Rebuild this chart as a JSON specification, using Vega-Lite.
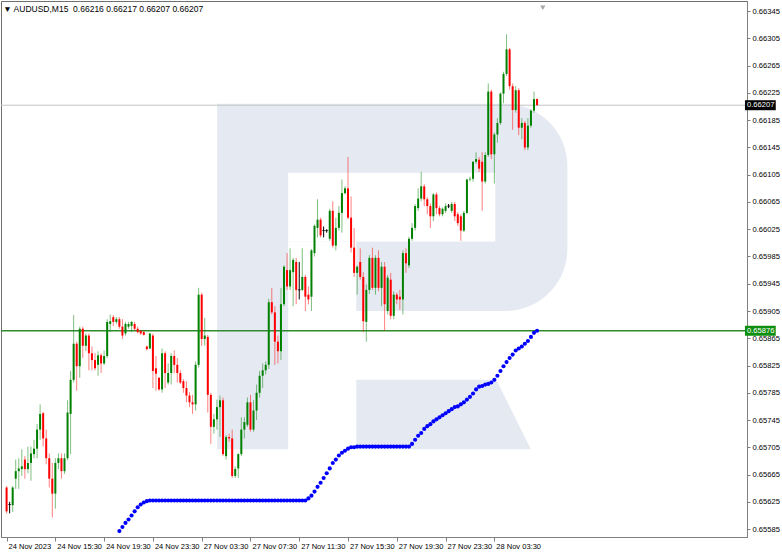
{
"$schema":"https://vega.github.io/schema/vega-lite/v6.json",
"width":746,"height":536,
"autosize":{"type":"none"},
"padding":{"left":1,"top":1,"right":35,"bottom":16},
"background":"white",
"title":{"text":"▼ AUDUSD,M15\u00a0 0.66216 0.66217 0.66207 0.66207","anchor":"start","orient":"top","offset":-19,"baseline":"alphabetic","dx":3,"fontSize":8.5,"font":"Liberation Sans","fontWeight":"normal","color":"#000000"},
"config":{"view":{"stroke":"#707070","strokeWidth":1},"axis":{"grid":false,"labelFont":"Liberation Sans","labelColor":"#000000","domainColor":"#808080","tickColor":"#808080","labelOverlap":false,"labelFlush":false,"labelBound":false}},
"datasets":{
"logo":[
{"part":"bowl","i":69.06,"i2":183.95,"p":0.66209,"p2":0.65905},
{"part":"stem","i":69.06,"i2":92.36,"p":0.65905,"p2":0.65702},
{"part":"hole","i":92.36,"i2":160.32,"p":0.66108,"p2":0.66007},
{"part":"hole","i":92.36,"i2":114.69,"p":0.66007,"p2":0.65905},
{"part":"leg","i":114.69,"i2":160.65,"p":0.65804},
{"part":"leg","i":114.69,"i2":171.97,"p":0.65702}
],
"levels":[{"p":0.66207,"lbl":"0.66207","kind":"bid"},{"p":0.65876,"lbl":"0.65876","kind":"lvl"}],
"marker":[{"i":175.9,"p":0.6635}],
"bars":[
{"i":0,"o":0.65646,"h":0.65648,"l":0.65608,"c":0.65611},
{"i":1,"o":0.65621,"h":0.65625,"l":0.65608,"c":0.65621},
{"i":2,"o":0.6562,"h":0.65648,"l":0.6561,"c":0.65646},
{"i":3,"o":0.65659,"h":0.65687,"l":0.65644,"c":0.6567},
{"i":4,"o":0.6567,"h":0.65689,"l":0.65644,"c":0.65674},
{"i":5,"o":0.65673,"h":0.65702,"l":0.65663,"c":0.65677},
{"i":6,"o":0.65687,"h":0.65692,"l":0.65659,"c":0.65673},
{"i":7,"o":0.65673,"h":0.65706,"l":0.65667,"c":0.65682},
{"i":8,"o":0.65682,"h":0.65706,"l":0.65656,"c":0.65696},
{"i":9,"o":0.65695,"h":0.65716,"l":0.65689,"c":0.65703},
{"i":10,"o":0.65703,"h":0.65739,"l":0.65689,"c":0.65731},
{"i":11,"o":0.65731,"h":0.65768,"l":0.65716,"c":0.65754},
{"i":12,"o":0.65755,"h":0.65757,"l":0.65706,"c":0.65718},
{"i":13,"o":0.65718,"h":0.65731,"l":0.6568,"c":0.65689},
{"i":14,"o":0.65689,"h":0.65696,"l":0.65646,"c":0.65659},
{"i":15,"o":0.65659,"h":0.65682,"l":0.65602,"c":0.65637},
{"i":16,"o":0.65637,"h":0.65689,"l":0.65615,"c":0.65682},
{"i":17,"o":0.65682,"h":0.65696,"l":0.65673,"c":0.65689},
{"i":18,"o":0.65689,"h":0.65696,"l":0.65659,"c":0.6567},
{"i":19,"o":0.6567,"h":0.65696,"l":0.65666,"c":0.65689},
{"i":20,"o":0.65689,"h":0.65774,"l":0.65686,"c":0.65756},
{"i":21,"o":0.65754,"h":0.65817,"l":0.65695,"c":0.65804},
{"i":22,"o":0.65804,"h":0.65899,"l":0.658,"c":0.65857},
{"i":23,"o":0.65857,"h":0.6586,"l":0.65788,"c":0.65824},
{"i":24,"o":0.65824,"h":0.65882,"l":0.65807,"c":0.65879},
{"i":25,"o":0.65879,"h":0.65882,"l":0.65836,"c":0.65854},
{"i":26,"o":0.65854,"h":0.65872,"l":0.65846,"c":0.65869},
{"i":27,"o":0.65869,"h":0.65872,"l":0.65818,"c":0.65843},
{"i":28,"o":0.65843,"h":0.65853,"l":0.65818,"c":0.65833},
{"i":29,"o":0.65833,"h":0.65843,"l":0.65818,"c":0.65821},
{"i":30,"o":0.65826,"h":0.65846,"l":0.6581,"c":0.6584},
{"i":31,"o":0.6584,"h":0.65843,"l":0.65814,"c":0.65828},
{"i":32,"o":0.65828,"h":0.65847,"l":0.65826,"c":0.65839},
{"i":33,"o":0.65839,"h":0.65893,"l":0.65836,"c":0.65889},
{"i":34,"o":0.65886,"h":0.659,"l":0.65874,"c":0.6589},
{"i":35,"o":0.65896,"h":0.65899,"l":0.65883,"c":0.65889},
{"i":36,"o":0.65889,"h":0.65896,"l":0.65886,"c":0.65893},
{"i":37,"o":0.65893,"h":0.65896,"l":0.65879,"c":0.65882,"b":0.65582},
{"i":38,"o":0.65882,"h":0.65893,"l":0.65864,"c":0.65869,"b":0.65588},
{"i":39,"o":0.65872,"h":0.65889,"l":0.65869,"c":0.65886,"b":0.65594},
{"i":40,"o":0.65882,"h":0.65889,"l":0.65879,"c":0.65886,"b":0.65599},
{"i":41,"o":0.65883,"h":0.6589,"l":0.65874,"c":0.65889,"b":0.65605},
{"i":42,"o":0.65886,"h":0.65889,"l":0.65876,"c":0.65879,"b":0.65611},
{"i":43,"o":0.65879,"h":0.65882,"l":0.65872,"c":0.65874,"b":0.65617},
{"i":44,"o":0.65876,"h":0.65877,"l":0.6587,"c":0.65872,"b":0.65621},
{"i":45,"o":0.65874,"h":0.65876,"l":0.65869,"c":0.6587,"b":0.65624},
{"i":46,"o":0.65853,"h":0.65854,"l":0.65847,"c":0.65849,"b":0.65626},
{"i":47,"o":0.6585,"h":0.65873,"l":0.65849,"c":0.65872,"b":0.65627},
{"i":48,"o":0.65869,"h":0.65872,"l":0.65792,"c":0.65817,"b":0.65627},
{"i":49,"o":0.65821,"h":0.65839,"l":0.65788,"c":0.65813,"b":0.65627},
{"i":50,"o":0.65807,"h":0.65808,"l":0.65788,"c":0.6579,"b":0.65627},
{"i":51,"o":0.6579,"h":0.6585,"l":0.65785,"c":0.65843,"b":0.65627},
{"i":52,"o":0.65843,"h":0.65846,"l":0.65792,"c":0.65814,"b":0.65627},
{"i":53,"o":0.658,"h":0.65828,"l":0.65797,"c":0.65814,"b":0.65627},
{"i":54,"o":0.65814,"h":0.65843,"l":0.65797,"c":0.65839,"b":0.65627},
{"i":55,"o":0.65839,"h":0.65847,"l":0.65814,"c":0.65826,"b":0.65627},
{"i":56,"o":0.65826,"h":0.65836,"l":0.658,"c":0.65814,"b":0.65627},
{"i":57,"o":0.65814,"h":0.65818,"l":0.65798,"c":0.658,"b":0.65627},
{"i":58,"o":0.65802,"h":0.65805,"l":0.65785,"c":0.65792,"b":0.65627},
{"i":59,"o":0.65792,"h":0.65802,"l":0.65771,"c":0.65781,"b":0.65627},
{"i":60,"o":0.65781,"h":0.65786,"l":0.65764,"c":0.65771,"b":0.65627},
{"i":61,"o":0.65771,"h":0.65782,"l":0.65754,"c":0.65768,"b":0.65627},
{"i":62,"o":0.65768,"h":0.65831,"l":0.65759,"c":0.65826,"b":0.65627},
{"i":63,"o":0.65826,"h":0.65939,"l":0.65822,"c":0.65929,"b":0.65627},
{"i":64,"o":0.65929,"h":0.65932,"l":0.65854,"c":0.65864,"b":0.65627},
{"i":65,"o":0.65864,"h":0.65895,"l":0.65854,"c":0.65869,"b":0.65627},
{"i":66,"o":0.65867,"h":0.6587,"l":0.65756,"c":0.65782,"b":0.65627},
{"i":67,"o":0.65782,"h":0.65785,"l":0.6571,"c":0.65735,"b":0.65627},
{"i":68,"o":0.65735,"h":0.65754,"l":0.65725,"c":0.65746,"b":0.65627},
{"i":69,"o":0.65746,"h":0.65775,"l":0.65731,"c":0.65764,"b":0.65627},
{"i":70,"o":0.65764,"h":0.65781,"l":0.6572,"c":0.65774,"b":0.65627},
{"i":71,"o":0.65774,"h":0.65778,"l":0.65692,"c":0.65695,"b":0.65627},
{"i":72,"o":0.65692,"h":0.65723,"l":0.65687,"c":0.6572,"b":0.65627},
{"i":73,"o":0.6572,"h":0.65725,"l":0.65713,"c":0.65718,"b":0.65627},
{"i":74,"o":0.65718,"h":0.65731,"l":0.6566,"c":0.65663,"b":0.65627},
{"i":75,"o":0.65663,"h":0.65677,"l":0.6566,"c":0.65673,"b":0.65627},
{"i":76,"o":0.65674,"h":0.65696,"l":0.6566,"c":0.65695,"b":0.65627},
{"i":77,"o":0.65695,"h":0.65749,"l":0.65692,"c":0.65731,"b":0.65627},
{"i":78,"o":0.65731,"h":0.65749,"l":0.65718,"c":0.65742,"b":0.65627},
{"i":79,"o":0.65738,"h":0.65778,"l":0.65735,"c":0.65771,"b":0.65627},
{"i":80,"o":0.65771,"h":0.65782,"l":0.65728,"c":0.65731,"b":0.65627},
{"i":81,"o":0.65731,"h":0.65774,"l":0.65728,"c":0.65759,"b":0.65627},
{"i":82,"o":0.65759,"h":0.65797,"l":0.65745,"c":0.65785,"b":0.65627},
{"i":83,"o":0.65785,"h":0.65817,"l":0.65778,"c":0.6581,"b":0.65627},
{"i":84,"o":0.6581,"h":0.65828,"l":0.65792,"c":0.65818,"b":0.65627},
{"i":85,"o":0.65818,"h":0.65831,"l":0.65812,"c":0.65826,"b":0.65627},
{"i":86,"o":0.65826,"h":0.65923,"l":0.6582,"c":0.65918,"b":0.65627},
{"i":87,"o":0.65918,"h":0.65939,"l":0.659,"c":0.65903,"b":0.65627},
{"i":88,"o":0.65903,"h":0.65912,"l":0.65826,"c":0.6586,"b":0.65627},
{"i":89,"o":0.6586,"h":0.65869,"l":0.65828,"c":0.65846,"b":0.65627},
{"i":90,"o":0.65846,"h":0.65939,"l":0.65833,"c":0.65915,"b":0.65627},
{"i":91,"o":0.65915,"h":0.65972,"l":0.65912,"c":0.6597,"b":0.65627},
{"i":92,"o":0.65965,"h":0.6599,"l":0.65936,"c":0.65941,"b":0.65627},
{"i":93,"o":0.65941,"h":0.65997,"l":0.65936,"c":0.65965,"b":0.65627},
{"i":94,"o":0.65962,"h":0.65983,"l":0.65912,"c":0.6598,"b":0.65627},
{"i":95,"o":0.65977,"h":0.65983,"l":0.65915,"c":0.65936,"b":0.65627},
{"i":96,"o":0.65936,"h":0.65977,"l":0.65922,"c":0.65936,"b":0.65627},
{"i":97,"o":0.65936,"h":0.65997,"l":0.65934,"c":0.65955,"b":0.65627},
{"i":98,"o":0.65955,"h":0.65958,"l":0.65905,"c":0.65926,"b":0.65627},
{"i":99,"o":0.65929,"h":0.65941,"l":0.65915,"c":0.65922,"b":0.6563},
{"i":100,"o":0.65926,"h":0.65996,"l":0.65905,"c":0.65994,"b":0.65634},
{"i":101,"o":0.6599,"h":0.66032,"l":0.65985,"c":0.6603,"b":0.6564},
{"i":102,"o":0.66027,"h":0.66069,"l":0.66013,"c":0.66039,"b":0.65647},
{"i":103,"o":0.66039,"h":0.66042,"l":0.66013,"c":0.66016,"b":0.65653},
{"i":104,"o":0.66023,"h":0.66029,"l":0.66013,"c":0.66023,"b":0.6566},
{"i":105,"o":0.66023,"h":0.66025,"l":0.6602,"c":0.66023,"b":0.65667},
{"i":106,"o":0.66011,"h":0.66055,"l":0.66008,"c":0.66052,"b":0.65674},
{"i":107,"o":0.66052,"h":0.66066,"l":0.65998,"c":0.66001,"b":0.65682},
{"i":108,"o":0.66001,"h":0.66042,"l":0.65994,"c":0.66027,"b":0.65687},
{"i":109,"o":0.66027,"h":0.66059,"l":0.66023,"c":0.66049,"b":0.65693},
{"i":110,"o":0.66049,"h":0.66098,"l":0.6602,"c":0.66078,"b":0.65697},
{"i":111,"o":0.66078,"h":0.66088,"l":0.66076,"c":0.66085,"b":0.657},
{"i":112,"o":0.66085,"h":0.66131,"l":0.6604,"c":0.66042,"b":0.65703},
{"i":113,"o":0.66042,"h":0.66073,"l":0.65991,"c":0.65998,"b":0.65705},
{"i":114,"o":0.65998,"h":0.66027,"l":0.65955,"c":0.65961,"b":0.65705},
{"i":115,"o":0.65961,"h":0.65972,"l":0.65929,"c":0.6597,"b":0.65706},
{"i":116,"o":0.65977,"h":0.65997,"l":0.65951,"c":0.65955,"b":0.65706},
{"i":117,"o":0.65955,"h":0.65962,"l":0.65874,"c":0.6589,"b":0.65706},
{"i":118,"o":0.65889,"h":0.65944,"l":0.6586,"c":0.65936,"b":0.65706},
{"i":119,"o":0.65936,"h":0.65987,"l":0.6593,"c":0.65983,"b":0.65706},
{"i":120,"o":0.65983,"h":0.65998,"l":0.65936,"c":0.65939,"b":0.65706},
{"i":121,"o":0.65939,"h":0.65987,"l":0.65929,"c":0.65983,"b":0.65706},
{"i":122,"o":0.65983,"h":0.65994,"l":0.65934,"c":0.65939,"b":0.65706},
{"i":123,"o":0.65939,"h":0.65977,"l":0.65912,"c":0.6597,"b":0.65706},
{"i":124,"o":0.6597,"h":0.65977,"l":0.65876,"c":0.65915,"b":0.65706},
{"i":125,"o":0.65905,"h":0.65958,"l":0.659,"c":0.65954,"b":0.65706},
{"i":126,"o":0.65951,"h":0.65961,"l":0.65893,"c":0.65898,"b":0.65706},
{"i":127,"o":0.65898,"h":0.65934,"l":0.65893,"c":0.65929,"b":0.65706},
{"i":128,"o":0.65929,"h":0.65932,"l":0.65915,"c":0.65922,"b":0.65706},
{"i":129,"o":0.65926,"h":0.65936,"l":0.65907,"c":0.65922,"b":0.65706},
{"i":130,"o":0.65922,"h":0.65994,"l":0.659,"c":0.6599,"b":0.65706},
{"i":131,"o":0.6599,"h":0.65997,"l":0.65961,"c":0.65975,"b":0.65706},
{"i":132,"o":0.65972,"h":0.66014,"l":0.65968,"c":0.66011,"b":0.65706},
{"i":133,"o":0.66011,"h":0.66034,"l":0.66008,"c":0.66027,"b":0.6571},
{"i":134,"o":0.66027,"h":0.66062,"l":0.66023,"c":0.66059,"b":0.65716},
{"i":135,"o":0.66056,"h":0.66085,"l":0.66052,"c":0.6607,"b":0.65722},
{"i":136,"o":0.6607,"h":0.66109,"l":0.66066,"c":0.66088,"b":0.65726},
{"i":137,"o":0.66088,"h":0.66091,"l":0.66059,"c":0.66069,"b":0.65732},
{"i":138,"o":0.66069,"h":0.66072,"l":0.66047,"c":0.66059,"b":0.65736},
{"i":139,"o":0.66059,"h":0.66063,"l":0.66027,"c":0.66044,"b":0.65739},
{"i":140,"o":0.66044,"h":0.66078,"l":0.66037,"c":0.66076,"b":0.65743},
{"i":141,"o":0.66076,"h":0.66079,"l":0.66047,"c":0.66056,"b":0.65746},
{"i":142,"o":0.66056,"h":0.66059,"l":0.66044,"c":0.66047,"b":0.65749},
{"i":143,"o":0.66047,"h":0.66057,"l":0.66044,"c":0.66055,"b":0.65752},
{"i":144,"o":0.66052,"h":0.66063,"l":0.66049,"c":0.66059,"b":0.65755},
{"i":145,"o":0.66059,"h":0.66062,"l":0.66056,"c":0.66059,"b":0.65758},
{"i":146,"o":0.66052,"h":0.66065,"l":0.66049,"c":0.66062,"b":0.65761},
{"i":147,"o":0.66062,"h":0.66065,"l":0.66037,"c":0.66044,"b":0.65764},
{"i":148,"o":0.66047,"h":0.6605,"l":0.6603,"c":0.66034,"b":0.65765},
{"i":149,"o":0.66044,"h":0.66047,"l":0.66008,"c":0.66023,"b":0.65768},
{"i":150,"o":0.66023,"h":0.66052,"l":0.66021,"c":0.66049,"b":0.65771},
{"i":151,"o":0.66049,"h":0.66099,"l":0.66047,"c":0.66098,"b":0.65775},
{"i":152,"o":0.66098,"h":0.66102,"l":0.66095,"c":0.66099,"b":0.65779},
{"i":153,"o":0.66099,"h":0.66125,"l":0.66095,"c":0.66124,"b":0.65784},
{"i":154,"o":0.66124,"h":0.66138,"l":0.66121,"c":0.66128,"b":0.6579},
{"i":155,"o":0.66127,"h":0.66131,"l":0.66109,"c":0.66114,"b":0.65794},
{"i":156,"o":0.66124,"h":0.66138,"l":0.66052,"c":0.66095,"b":0.65795},
{"i":157,"o":0.66095,"h":0.66138,"l":0.66092,"c":0.66134,"b":0.65797},
{"i":158,"o":0.66134,"h":0.66239,"l":0.66131,"c":0.66227,"b":0.65798},
{"i":159,"o":0.66227,"h":0.6623,"l":0.66128,"c":0.66135,"b":0.658},
{"i":160,"o":0.66135,"h":0.66167,"l":0.66092,"c":0.66164,"b":0.65804},
{"i":161,"o":0.66164,"h":0.66188,"l":0.66152,"c":0.66181,"b":0.6581},
{"i":162,"o":0.66181,"h":0.66226,"l":0.66178,"c":0.66224,"b":0.65817},
{"i":163,"o":0.66224,"h":0.66256,"l":0.6621,"c":0.66253,"b":0.65824},
{"i":164,"o":0.66253,"h":0.66311,"l":0.6625,"c":0.66289,"b":0.6583},
{"i":165,"o":0.66289,"h":0.66291,"l":0.6623,"c":0.66235,"b":0.65836},
{"i":166,"o":0.66235,"h":0.66239,"l":0.66171,"c":0.662,"b":0.65841},
{"i":167,"o":0.662,"h":0.66235,"l":0.66196,"c":0.66229,"b":0.65847},
{"i":168,"o":0.66229,"h":0.66232,"l":0.66163,"c":0.66174,"b":0.6585},
{"i":169,"o":0.66174,"h":0.66188,"l":0.66157,"c":0.66181,"b":0.65853},
{"i":170,"o":0.66181,"h":0.66184,"l":0.66141,"c":0.66145,"b":0.65857},
{"i":171,"o":0.66145,"h":0.66188,"l":0.66141,"c":0.66177,"b":0.65861},
{"i":172,"o":0.66177,"h":0.66201,"l":0.66174,"c":0.66199,"b":0.65867},
{"i":173,"o":0.66199,"h":0.66227,"l":0.66196,"c":0.66216,"b":0.65873},
{"i":174,"o":0.66216,"h":0.66217,"l":0.66207,"c":0.66207,"b":0.65876}
]},
"layer":[
{"data":{"name":"logo"},"transform":[{"filter":"datum.part == 'bowl'"}],
 "mark":{"type":"rect","color":"#e5eaf2","cornerRadiusTopRight":62,"cornerRadiusBottomRight":62},
 "encoding":{
  "x":{"field":"i","type":"quantitative","scale":{"domain":[-0.19,241.23],"nice":false,"zero":false},
   "axis":{"orient":"bottom","title":null,"values":[0,16,32,48,64,80,96,112,128,144,160],"tickCount":40,
    "labelExpr":"['24 Nov 2023','24 Nov 15:30','24 Nov 19:30','24 Nov 23:30','27 Nov 03:30','27 Nov 07:30','27 Nov 11:30','27 Nov 15:30','27 Nov 19:30','27 Nov 23:30','28 Nov 03:30'][round(datum.value/16)]",
    "labelAlign":"left","labelBaseline":"top","labelPadding":1,"labelOffset":1.5,"tickSize":4,"labelFontSize":7.5,"labelOverlap":false}},
  "x2":{"field":"i2"},
  "y":{"field":"p","type":"quantitative","scale":{"domain":[0.655807,0.663526],"nice":false,"zero":false},
   "axis":{"orient":"right","title":null,"values":[0.65585,0.65625,0.65665,0.65705,0.65745,0.65785,0.65825,0.65865,0.65905,0.65945,0.65985,0.66025,0.66065,0.66105,0.66145,0.66185,0.66225,0.66265,0.66305,0.66345],"tickCount":60,
    "format":".5f","tickSize":3,"labelPadding":2,"labelFontSize":7.6,"labelOverlap":false}},
  "y2":{"field":"p2"}}},
{"data":{"name":"logo"},"transform":[{"filter":"datum.part == 'stem'"}],
 "mark":{"type":"rect","color":"#e5eaf2"},
 "encoding":{"x":{"field":"i","type":"quantitative","title":null},"x2":{"field":"i2"},"y":{"field":"p","type":"quantitative","title":null},"y2":{"field":"p2"}}},
{"data":{"name":"logo"},"transform":[{"filter":"datum.part == 'hole'"}],
 "mark":{"type":"rect","color":"#ffffff"},
 "encoding":{"x":{"field":"i","type":"quantitative","title":null},"x2":{"field":"i2"},"y":{"field":"p","type":"quantitative","title":null},"y2":{"field":"p2"}}},
{"data":{"name":"logo"},"transform":[{"filter":"datum.part == 'leg'"}],
 "mark":{"type":"area","orient":"horizontal","color":"#e5eaf2"},
 "encoding":{"y":{"field":"p","type":"quantitative","title":null},"x":{"field":"i","type":"quantitative","title":null},"x2":{"field":"i2"}}},
{"data":{"name":"levels"},"transform":[{"filter":"datum.kind == 'bid'"}],
 "mark":{"type":"rule","color":"#c4c4c4","strokeWidth":1},
 "encoding":{"y":{"field":"p","type":"quantitative","title":null}}},
{"data":{"name":"levels"},"transform":[{"filter":"datum.kind == 'lvl'"}],
 "mark":{"type":"rule","color":"#2e8b2e","strokeWidth":1.4},
 "encoding":{"y":{"field":"p","type":"quantitative","title":null}}},
{"data":{"name":"bars"},
 "mark":{"type":"rule","strokeWidth":1},
 "encoding":{"x":{"field":"i","type":"quantitative","title":null},"y":{"field":"l","type":"quantitative","title":null},"y2":{"field":"h"},
  "color":{"condition":[{"test":"datum.c > datum.o","value":"#008000"},{"test":"datum.c < datum.o","value":"#ff0000"}],"value":"#000000"},
  "opacity":{"condition":{"test":"datum.c == datum.o","value":1},"value":0.5}}},
{"data":{"name":"bars"},"transform":[{"filter":"datum.o != datum.c"}],
 "mark":{"type":"bar","size":2},
 "encoding":{"x":{"field":"i","type":"quantitative","title":null},"y":{"field":"o","type":"quantitative","title":null},"y2":{"field":"c"},
  "color":{"condition":{"test":"datum.c > datum.o","value":"#008000"},"value":"#ff0000"}}},
{"data":{"name":"bars"},"transform":[{"filter":"datum.o == datum.c"}],
 "mark":{"type":"tick","orient":"horizontal","size":3,"thickness":1,"color":"#000000"},
 "encoding":{"x":{"field":"i","type":"quantitative","title":null},"y":{"field":"o","type":"quantitative","title":null}}},
{"data":{"name":"bars"},"transform":[{"filter":"isValid(datum.b)"}],
 "mark":{"type":"point","filled":true,"color":"#0000ff","size":17,"opacity":1},
 "encoding":{"x":{"field":"i","type":"quantitative","title":null},"y":{"field":"b","type":"quantitative","title":null}}},
{"data":{"name":"levels"},
 "mark":{"type":"bar","orient":"horizontal","size":10},
 "encoding":{"x":{"datum":242.2,"type":"quantitative"},"x2":{"datum":252.3},"y":{"field":"p","type":"quantitative","title":null},
  "color":{"condition":{"test":"datum.kind == 'bid'","value":"#000000"},"value":"#0f8f0f"}}},
{"data":{"name":"levels"},
 "mark":{"type":"text","align":"left","baseline":"middle","color":"#ffffff","fontSize":7.6,"font":"Liberation Sans"},
 "encoding":{"x":{"datum":242.85,"type":"quantitative"},"y":{"field":"p","type":"quantitative","title":null},"text":{"field":"lbl"}}},
{"data":{"name":"marker"},
 "mark":{"type":"point","shape":"triangle-down","filled":true,"color":"#a8a8a8","size":28,"opacity":1},
 "encoding":{"x":{"field":"i","type":"quantitative","title":null},"y":{"field":"p","type":"quantitative","title":null}}}
]
}
